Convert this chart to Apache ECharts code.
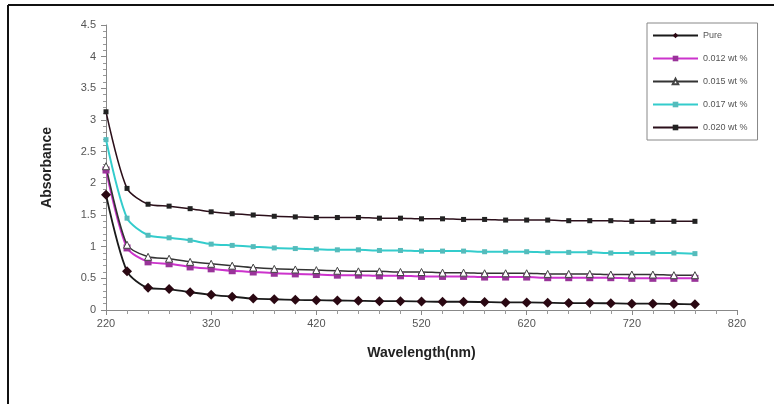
<!DOCTYPE html>
<html>
<head>
<meta charset="utf-8">
<script src="https://cdn.jsdelivr.net/npm/echarts@6/dist/echarts.min.js"></script>
<style>
  html, body { margin: 0; padding: 0; background: #fff; }
  #chart { width: 774px; height: 404px; }
</style>
</head>
<body>
<div id="chart"></div>
<script>
// Wavelength sampling (nm), every 20 nm from 220 to 780
const wavelengths = [220, 240, 260, 280, 300, 320, 340, 360, 380, 400, 420, 440, 460, 480, 500,
  520, 540, 560, 580, 600, 620, 640, 660, 680, 700, 720, 740, 760, 780];

// Absorbance spectra for each sample
const pure = [1.82, 0.61, 0.35, 0.33, 0.28, 0.24, 0.21, 0.18, 0.17, 0.16, 0.155, 0.15, 0.145, 0.14, 0.14,
  0.135, 0.13, 0.13, 0.125, 0.12, 0.12, 0.115, 0.11, 0.11, 0.105, 0.10, 0.10, 0.095, 0.09];
const wt012 = [2.21, 0.98, 0.76, 0.73, 0.68, 0.65, 0.62, 0.60, 0.58, 0.57, 0.56, 0.55, 0.55, 0.54, 0.54,
  0.53, 0.53, 0.53, 0.52, 0.52, 0.52, 0.51, 0.51, 0.51, 0.51, 0.50, 0.50, 0.50, 0.50];
const wt015 = [2.27, 1.03, 0.84, 0.81, 0.76, 0.73, 0.70, 0.67, 0.65, 0.64, 0.63, 0.62, 0.61, 0.61, 0.60,
  0.60, 0.59, 0.59, 0.58, 0.58, 0.58, 0.57, 0.57, 0.57, 0.56, 0.56, 0.56, 0.55, 0.55];
const wt017 = [2.69, 1.45, 1.18, 1.14, 1.10, 1.04, 1.02, 1.00, 0.98, 0.97, 0.96, 0.95, 0.95, 0.94, 0.94,
  0.93, 0.93, 0.93, 0.92, 0.92, 0.92, 0.91, 0.91, 0.91, 0.90, 0.90, 0.90, 0.90, 0.89];
const wt020 = [3.13, 1.92, 1.67, 1.64, 1.60, 1.55, 1.52, 1.50, 1.48, 1.47, 1.46, 1.46, 1.46, 1.45, 1.45,
  1.44, 1.44, 1.43, 1.43, 1.42, 1.42, 1.42, 1.41, 1.41, 1.41, 1.40, 1.40, 1.40, 1.40];

const seriesNames = ['Pure', '0.012 wt %', '0.015 wt %', '0.017 wt %', '0.020 wt %'];

const pairs = ys => wavelengths.map((w, i) => [w, ys[i]]);

const chart = echarts.init(document.getElementById('chart'), null, { renderer: 'canvas' });

const FONT = 'Arial, "Liberation Sans", sans-serif';
const axisFont = { fontFamily: FONT, fontSize: 11, color: '#555' };

chart.setOption({
  animation: false,
  backgroundColor: '#fff',
  grid: { left: 106, right: 37, top: 25, bottom: 94 },
  xAxis: {
    type: 'value',
    min: 220, max: 820, interval: 100,
    name: 'Wavelength(nm)',
    nameLocation: 'middle',
    nameGap: 36,
    nameTextStyle: { fontFamily: FONT, fontSize: 14, fontWeight: 'bold', color: '#222' },
    axisLine: { show: true, onZero: false, lineStyle: { color: '#888', width: 1 } },
    axisTick: { show: true, length: 5, lineStyle: { color: '#888' } },
    minorTick: { show: true, splitNumber: 5, length: 4, lineStyle: { color: '#999' } },
    axisLabel: Object.assign({ margin: 8 }, axisFont),
    splitLine: { show: false }
  },
  yAxis: {
    type: 'value',
    min: 0, max: 4.5, interval: 0.5,
    name: 'Absorbance',
    nameLocation: 'middle',
    nameGap: 52,
    nameTextStyle: { fontFamily: FONT, fontSize: 14, fontWeight: 'bold', color: '#222' },
    axisLine: { show: true, lineStyle: { color: '#888', width: 1 } },
    axisTick: { show: true, length: 5, lineStyle: { color: '#888' } },
    minorTick: { show: true, splitNumber: 5, length: 3, lineStyle: { color: '#999' } },
    axisLabel: Object.assign({ margin: 10 }, axisFont),
    splitLine: { show: false }
  },
  legend: {
    orient: 'vertical',
    left: 647, top: 23,
    padding: [8, 10, 8, 5],
    itemWidth: 45, itemHeight: 7, itemGap: 14,
    borderColor: '#888', borderWidth: 1,
    textStyle: { fontFamily: FONT, fontSize: 9, color: '#555' },
    data: seriesNames
  },
  series: [
    {
      name: seriesNames[0], type: 'line', data: pairs(pure), smooth: 0.25,
      symbol: 'diamond', symbolSize: 10,
      lineStyle: { color: '#1a1a1a', width: 1.8 },
      itemStyle: { color: '#2a0812' }
    },
    {
      name: seriesNames[1], type: 'line', data: pairs(wt012), smooth: 0.25,
      symbol: 'rect', symbolSize: 7,
      lineStyle: { color: '#cc33cc', width: 2 },
      itemStyle: { color: '#993399' }
    },
    {
      name: seriesNames[2], type: 'line', data: pairs(wt015), smooth: 0.25,
      symbol: 'triangle', symbolSize: 7,
      lineStyle: { color: '#333333', width: 1.5 },
      itemStyle: { color: '#ffffff', borderColor: '#444444', borderWidth: 1 }
    },
    {
      name: seriesNames[3], type: 'line', data: pairs(wt017), smooth: 0.25,
      symbol: 'rect', symbolSize: 5,
      lineStyle: { color: '#33cccc', width: 2 },
      itemStyle: { color: '#55bbbb' }
    },
    {
      name: seriesNames[4], type: 'line', data: pairs(wt020), smooth: 0.25,
      symbol: 'rect', symbolSize: 5,
      lineStyle: { color: '#2b0f1a', width: 1.5 },
      itemStyle: { color: '#222222' }
    }
  ],
  graphic: [
    { type: 'line', shape: { x1: 8, y1: 5, x2: 774, y2: 5 }, style: { stroke: '#111', lineWidth: 2 } },
    { type: 'line', shape: { x1: 8, y1: 5, x2: 8, y2: 404 }, style: { stroke: '#111', lineWidth: 2 } }
  ]
});
</script>
</body>
</html>
